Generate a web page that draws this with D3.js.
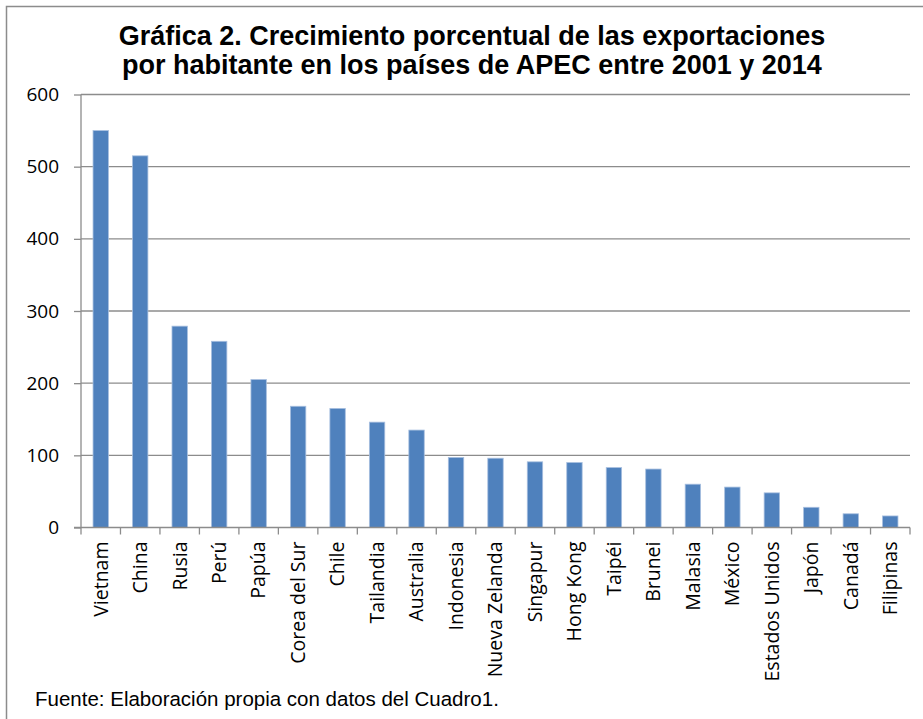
<!DOCTYPE html>
<html>
<head>
<meta charset="utf-8">
<script src="https://cdn.jsdelivr.net/npm/d3@7"></script>
<style>
  body { margin: 0; background: #fff; }
  .axis text { font-family: "Open Sans", sans-serif; fill: #000; }
</style>
</head>
<body>
<div id="chart"></div>
<script>
var paises = ["Vietnam", "China", "Rusia", "Perú", "Papúa", "Corea del Sur", "Chile", "Tailandia",
    "Australia", "Indonesia", "Nueva Zelanda", "Singapur", "Hong Kong", "Taipéi", "Brunei",
    "Malasia", "México", "Estados Unidos", "Japón", "Canadá", "Filipinas"];
var crecimiento = [550, 515, 279, 258, 205, 168, 165, 146, 135, 97, 96, 91, 90, 83, 81,
    60, 56, 48, 28, 19, 16];
var yTicks = [0, 100, 200, 300, 400, 500, 600];

var width = 923, height = 719;
var margin = { top: 94.5, right: 13, bottom: 191.5, left: 81 };

var svg = d3.select("#chart").append("svg")
    .attr("width", width)
    .attr("height", height);

// marco (solo se ve arriba y a la izquierda)
svg.append("rect")
    .attr("x", 6.5).attr("y", 6.5)
    .attr("width", 1000).attr("height", 1000)
    .attr("fill", "none")
    .attr("stroke", "#8c8c8c")
    .attr("stroke-width", 1.5);

var x = d3.scaleBand()
    .domain(paises)
    .range([margin.left, width - margin.right])
    .paddingInner(0.61)
    .paddingOuter(0.305);

var y = d3.scaleLinear()
    .domain([0, 600])
    .range([height - margin.bottom, margin.top]);

// rejilla
svg.append("g")
    .selectAll("line")
    .data(yTicks.slice(1))
    .enter().append("line")
    .attr("x1", margin.left).attr("x2", width - margin.right)
    .attr("y1", function (d) { return y(d); })
    .attr("y2", function (d) { return y(d); })
    .attr("stroke", "#8c8c8c")
    .attr("stroke-width", 1.3);

// barras
svg.append("g")
    .selectAll("rect")
    .data(paises)
    .enter().append("rect")
    .attr("x", function (d) { return x(d); })
    .attr("y", function (d, i) { return y(crecimiento[i]); })
    .attr("width", x.bandwidth())
    .attr("height", function (d, i) { return y(0) - y(crecimiento[i]); })
    .attr("fill", "#4f81bd")
    .attr("stroke", "#a7bfdf")
    .attr("stroke-width", 0.8);

// eje y
var yAxis = svg.append("g")
    .attr("class", "axis")
    .attr("transform", "translate(" + margin.left + ",0)")
    .call(d3.axisLeft(y).tickValues(yTicks).tickSize(7).tickPadding(15));
yAxis.selectAll("text").attr("font-size", 19);
yAxis.selectAll("line, path").attr("stroke", "#8c8c8c").attr("stroke-width", 1.3);
yAxis.select(".domain").attr("d", "M0," + y(600) + "V" + y(0));

// eje x: marcas entre categorias
var xAxis = svg.append("g")
    .attr("class", "axis")
    .attr("transform", "translate(0," + y(0) + ")");
xAxis.append("line")
    .attr("x1", margin.left - 7).attr("x2", width - margin.right)
    .attr("stroke", "#8c8c8c").attr("stroke-width", 1.3);
var step = x.step();
xAxis.selectAll(".tick")
    .data(d3.range(paises.length + 1))
    .enter().append("line")
    .attr("class", "tick")
    .attr("x1", function (i) { return margin.left + i * step; })
    .attr("x2", function (i) { return margin.left + i * step; })
    .attr("y1", 0).attr("y2", 7)
    .attr("stroke", "#8c8c8c").attr("stroke-width", 1.3);

xAxis.selectAll("text")
    .data(paises)
    .enter().append("text")
    .attr("transform", function (d) {
        return "translate(" + (x(d) + x.bandwidth() / 2) + ",14) rotate(-90)";
    })
    .attr("dy", "0.35em")
    .attr("text-anchor", "end")
    .attr("font-size", 19.5)
    .text(function (d) { return d; });

// titulo
var title = svg.append("text")
    .attr("x", 472)
    .attr("text-anchor", "middle")
    .attr("font-family", "Liberation Sans, Arial, sans-serif")
    .attr("font-weight", "bold")
    .attr("font-size", 27);
title.append("tspan").attr("x", 472).attr("y", 45)
    .text("Gráfica 2. Crecimiento porcentual de las exportaciones");
title.append("tspan").attr("x", 472).attr("y", 74)
    .text("por habitante en los países de APEC entre 2001 y 2014");

// fuente
svg.append("text")
    .attr("x", 35).attr("y", 706)
    .attr("font-family", "Liberation Sans, Arial, sans-serif")
    .attr("font-size", 20.5)
    .text("Fuente: Elaboración propia con datos del Cuadro1.");
</script>
</body>
</html>
